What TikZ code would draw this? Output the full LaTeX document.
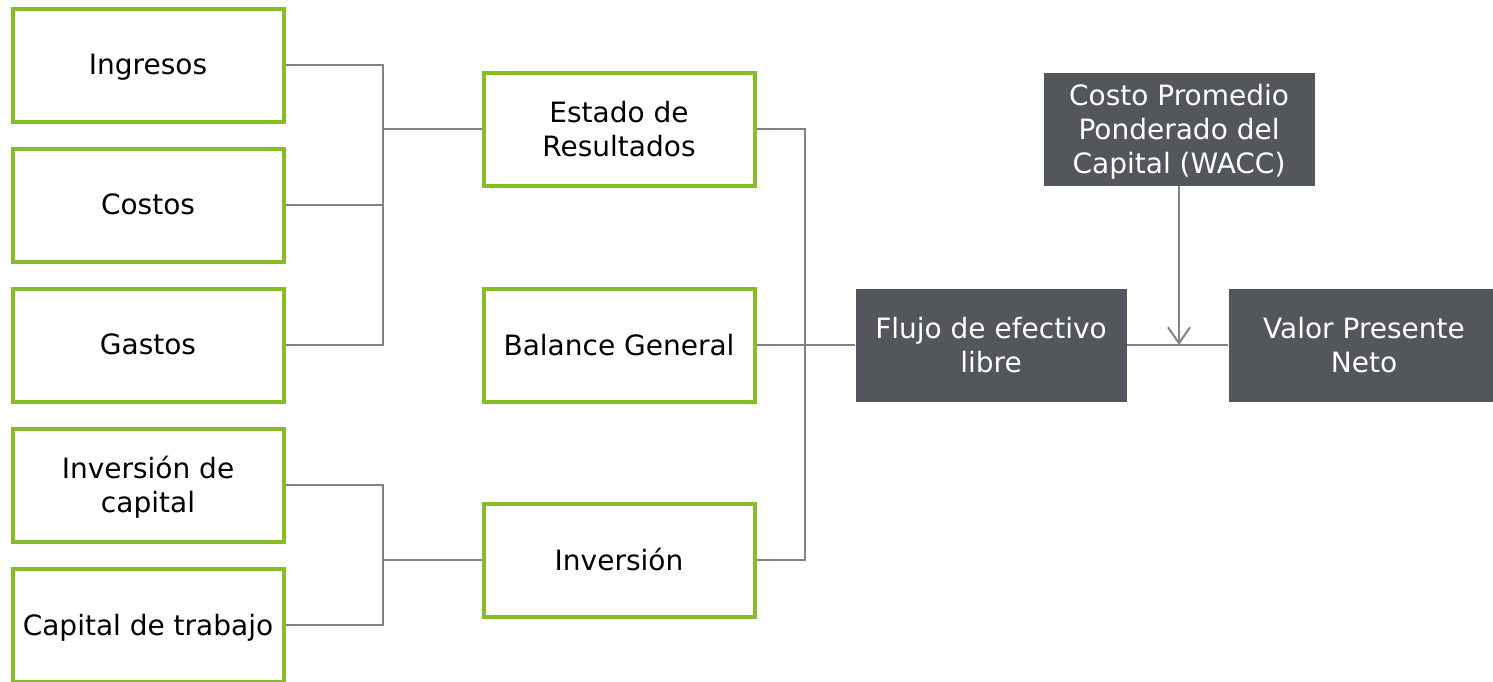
\documentclass[tikz,border=0pt]{standalone}
\usepackage{fontspec}
\setmainfont{DejaVu Sans}
\usetikzlibrary{positioning,arrows.meta}
\definecolor{leaf}{HTML}{86BC25}
\definecolor{slate}{HTML}{53565A}
\definecolor{wire}{HTML}{808285}
\begin{document}
\begin{tikzpicture}[x=1pt,y=-1pt,font=\fontsize{28}{34}\selectfont,
  srcblk/.style={draw=leaf,fill=white,line width=4pt,align=center,minimum width=271pt,minimum height=113pt,inner sep=2pt,text depth=1pt},
  valblk/.style={fill=slate,text=white,align=center,minimum width=271pt,minimum height=113pt,inner sep=2pt,text depth=1pt},
  link/.style={draw=wire,line width=2pt}]
\useasboundingbox (0,0) rectangle (1493,681);
\clip (0,0) rectangle (1493,681);
% inputs
\node[srcblk] (ing) at (148,65) {Ingresos};
\node[srcblk] (cos) at (148,205) {Costos};
\node[srcblk] (gas) at (148,345) {Gastos};
\node[srcblk] (invcap) at (148,485) {Inversión de\\capital};
\node[srcblk] (captrab) at (148,625) {Capital de trabajo};
% statements
\node[srcblk] (est) at (619,129) {Estado de\\Resultados};
\node[srcblk] (bal) at (619,345) {Balance General};
\node[srcblk] (inv) at (619,560) {Inversión};
% results
\node[valblk] (flujo) at (991,345) {Flujo de efectivo\\libre};
\node[valblk] (vpn) at (1364,345) {Valor Presente\\Neto};
\node[valblk] (wacc) at (1179,129) {Costo Promedio\\Ponderado del\\Capital (WACC)};
% joints
\coordinate (jres) at (383,129);
\coordinate (jinv) at (383,560);
\coordinate (jflu) at (805,345);
\coordinate (jvpn) at (1179,345);
\draw[link] (ing.east) -| (jres);
\draw[link] (gas.east) -| (jres);
\draw[link] (cos.east) -- (cos.east -| jres);
\draw[link] (jres) -- (est.west);
\draw[link] (invcap.east) -| (jinv);
\draw[link] (captrab.east) -| (jinv);
\draw[link] (jinv) -- (inv.west);
\draw[link] (est.east) -| (jflu);
\draw[link] (inv.east) -| (jflu);
\draw[link] (bal.east) -- (flujo.west);
\draw[link] (flujo.east) -- (vpn.west);
\draw[link,-{Straight Barb[length=16pt,width=22pt]}] (wacc.south) -- (jvpn);
\end{tikzpicture}
\end{document}
